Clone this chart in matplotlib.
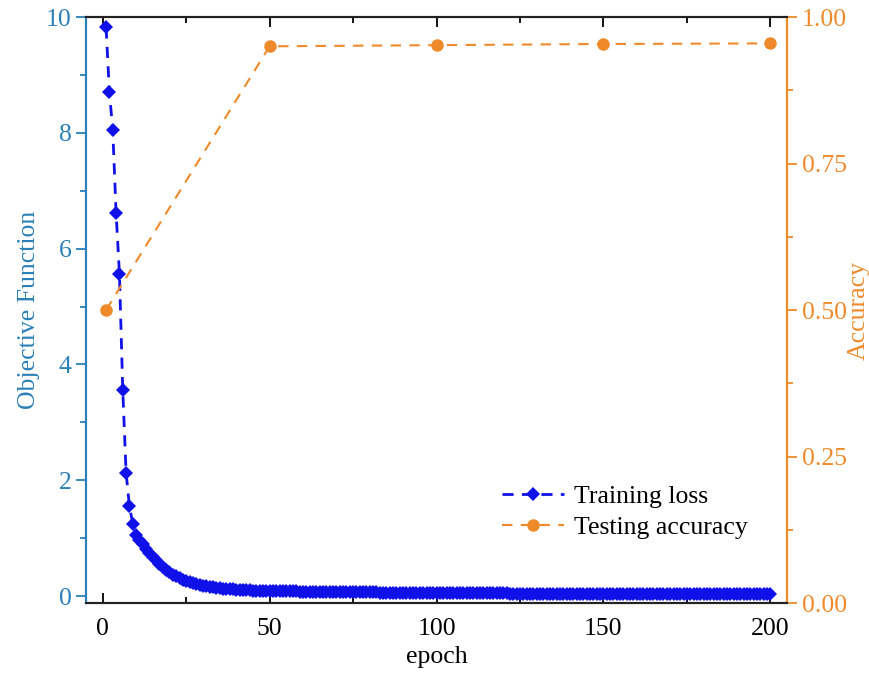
import numpy as np
import matplotlib
matplotlib.use('Agg')
import matplotlib.pyplot as plt
from matplotlib.ticker import MultipleLocator

# training loss per epoch
loss = [
    9.82, 8.70, 8.05, 6.62, 5.57, 3.56, 2.13, 1.55, 1.25, 1.05,
    0.97, 0.90, 0.82, 0.75, 0.68, 0.62, 0.56, 0.50, 0.45, 0.41,
    0.37, 0.34, 0.31, 0.28, 0.26, 0.24, 0.22, 0.20, 0.19, 0.18,
    0.17, 0.16, 0.15, 0.14, 0.135, 0.13, 0.125, 0.12, 0.115, 0.11,
    0.107, 0.104, 0.100, 0.098, 0.096, 0.094, 0.092, 0.090, 0.089, 0.088,
    0.086, 0.085, 0.084, 0.083, 0.082, 0.081, 0.080, 0.079, 0.078, 0.077,
    0.076, 0.075, 0.075, 0.074, 0.073, 0.072, 0.072, 0.071, 0.070, 0.069,
    0.069, 0.068, 0.067, 0.067, 0.066, 0.065, 0.065, 0.064, 0.063, 0.063,
    0.062, 0.062, 0.061, 0.060, 0.060, 0.059, 0.059, 0.058, 0.058, 0.057,
    0.057, 0.056, 0.056, 0.055, 0.055, 0.054, 0.054, 0.053, 0.053, 0.052,
    0.052, 0.051, 0.051, 0.051, 0.050, 0.050, 0.049, 0.049, 0.049, 0.048,
    0.048, 0.048, 0.047, 0.047, 0.047, 0.046, 0.046, 0.046, 0.045, 0.045,
    0.045, 0.044, 0.044, 0.044, 0.043, 0.043, 0.043, 0.043, 0.042, 0.042,
    0.042, 0.041, 0.041, 0.041, 0.041, 0.040, 0.040, 0.040, 0.040, 0.039,
    0.039, 0.039, 0.039, 0.038, 0.038, 0.038, 0.038, 0.037, 0.037, 0.037,
    0.037, 0.037, 0.036, 0.036, 0.036, 0.036, 0.035, 0.035, 0.035, 0.035,
    0.035, 0.034, 0.034, 0.034, 0.034, 0.034, 0.033, 0.033, 0.033, 0.033,
    0.033, 0.033, 0.032, 0.032, 0.032, 0.032, 0.032, 0.032, 0.031, 0.031,
    0.031, 0.031, 0.031, 0.031, 0.030, 0.030, 0.030, 0.030, 0.030, 0.030,
    0.030, 0.029, 0.029, 0.029, 0.029, 0.029, 0.029, 0.028, 0.028, 0.028,
]
epochs = np.arange(1, len(loss) + 1)

acc_epochs = [1, 50, 100, 150, 200]
accuracy = [0.50, 0.950, 0.952, 0.954, 0.955]

blue_axis = '#2a80b8'
orange = '#ee8a2a'
loss_color = '#1010e8'

plt.rcParams['font.family'] = ['Liberation Serif', 'DejaVu Serif']
plt.rcParams['font.size'] = 18.5

fig = plt.figure(figsize=(8.7, 6.73), dpi=100)
ax = fig.add_axes([0.0989, 0.104, 0.8057, 0.8707])
ax2 = ax.twinx()

l1, = ax.plot(epochs, loss, linestyle=(0, (4, 3)), color=loss_color, lw=2,
              marker='D', markersize=7, markeredgewidth=0, label='Training loss')
l2, = ax2.plot(acc_epochs, accuracy, linestyle=(0, (5, 4)), color=orange, lw=1.5,
               marker='o', markersize=9, markeredgewidth=0, label='Testing accuracy')

ax.set_xlim(-5, 205)
ax.set_ylim(-0.12, 10)
ax2.set_ylim(0, 1.0)

ax.xaxis.set_major_locator(MultipleLocator(50))
ax.xaxis.set_minor_locator(MultipleLocator(25))
ax.yaxis.set_major_locator(MultipleLocator(2))
ax.yaxis.set_minor_locator(MultipleLocator(1))
ax2.yaxis.set_major_locator(MultipleLocator(0.25))
ax2.yaxis.set_minor_locator(MultipleLocator(0.125))
ax2.yaxis.set_major_formatter(plt.FormatStrFormatter('%.2f'))

ax.tick_params(axis='x', which='both', direction='in', top=True, colors='black', pad=10.5)
ax.tick_params(axis='x', which='major', length=7, width=1.3)
ax.tick_params(axis='x', which='minor', length=4, width=1.3)
ax.tick_params(axis='y', which='both', direction='out', colors=blue_axis, width=1.3)
ax.tick_params(axis='y', which='major', length=7)
ax.tick_params(axis='y', which='minor', length=4)
ax2.tick_params(axis='y', which='both', direction='out', colors=orange, width=1.3)
ax2.tick_params(axis='y', which='major', length=7)
ax2.tick_params(axis='y', which='minor', length=4)

for a in (ax, ax2):
    a.spines['top'].set_color('#222222')
    a.spines['bottom'].set_color('#222222')
    a.spines['left'].set_color(blue_axis)
    a.spines['right'].set_color(orange)
    for s in a.spines.values():
        s.set_linewidth(1.5)

ax.set_xlabel('epoch', labelpad=4.5)
ax.set_ylabel('Objective Function', color=blue_axis, labelpad=4)
ax2.set_ylabel('Accuracy', color=orange, labelpad=1)

ax.legend([l1, l2], ['Training loss', 'Testing accuracy'], frameon=False,
          loc='lower right', bbox_to_anchor=(0.977, 0.07), handlelength=2.4,
          handletextpad=0.4, labelspacing=0.3)

fig.savefig('out.png', dpi=100)
